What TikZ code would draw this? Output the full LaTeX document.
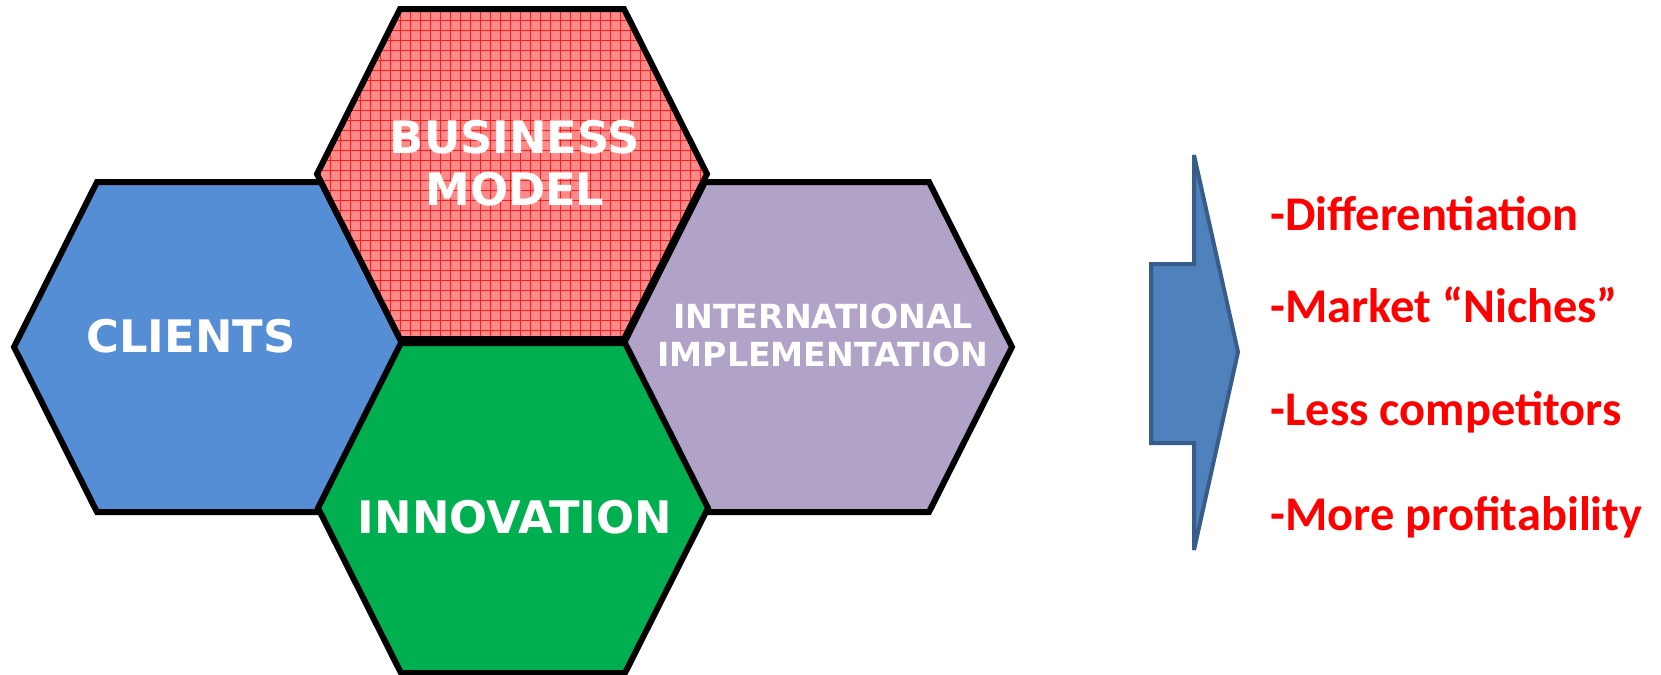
\documentclass[tikz,border=0pt]{standalone}
\usepackage{fontspec}
\newfontfamily\hexfont{DejaVu Sans}
\newfontfamily\calfont{Carlito}
\definecolor{clientsblue}{RGB}{85,142,213}
\definecolor{innovgreen}{RGB}{0,176,80}
\definecolor{intlpurple}{RGB}{177,162,199}
\definecolor{bmpink}{RGB}{255,138,138}
\definecolor{bmgrid}{RGB}{255,30,30}
\definecolor{arrowfill}{RGB}{79,129,189}
\definecolor{arrowline}{RGB}{56,93,138}
\definecolor{textred}{RGB}{255,0,0}
\newcommand\hexoutline{(-195,0) -- (-112,-165) -- (112,-165) -- (195,0) -- (112,165) -- (-112,165) -- cycle}
\begin{document}
\begin{tikzpicture}[x=0.5pt,y=-0.5pt,
  hexborder/.style={draw=black,line width=3pt,line join=miter},
  biglabel/.style={text=white,font=\hexfont\bfseries\fontsize{22.4}{26}\selectfont,inner sep=0pt,align=center,anchor=base},
  smalllabel/.style={text=white,font=\hexfont\bfseries\fontsize{16.6}{19}\selectfont,inner sep=0pt,align=center,anchor=base},
  benefit/.style={text=textred,font=\calfont\bfseries\fontsize{24.2}{28}\selectfont,inner sep=0pt,anchor=base west},
  gridline/.style={draw=bmgrid,line width=0.45pt}]
\useasboundingbox (0,0) rectangle (1661,675);

% Clients
\draw[hexborder,fill=clientsblue,shift={(209,347)}] \hexoutline;

% Business model (patterned)
\begin{scope}
  \clip[shift={(512,174)}] \hexoutline;
  \fill[bmpink] (300,0) rectangle (720,350);
  \foreach \gx in {300,310,...,720} \draw[gridline] (\gx,0) -- (\gx,350);
  \foreach \gy in {0,10,...,350} \draw[gridline] (300,\gy) -- (720,\gy);
\end{scope}
\draw[hexborder,shift={(512,174)}] \hexoutline;

% International implementation
\draw[hexborder,fill=intlpurple,shift={(817,347)}] \hexoutline;

% Innovation
\draw[hexborder,fill=innovgreen,shift={(513,508)}] \hexoutline;

% Labels (base anchor = baseline of the last line)
\node[biglabel] (clients) at (191,352) {CLIENTS};
\node[biglabel] (bm) at (515,205) {BUSINESS\\MODEL};
\node[smalllabel] (intl) at (823,366) {INTERNATIONAL\\IMPLEMENTATION};
\node[biglabel] (innov) at (515,533) {INNOVATION};

% Arrow
\draw[fill=arrowfill,draw=arrowline,line width=2pt,line join=miter,miter limit=2]
  (1194,155) -- (1238,352) -- (1194,550) -- (1194,443) -- (1151,443)
  -- (1151,264) -- (1194,264) -- cycle;

% Benefits
\node[benefit] (b1) at (1270,230) {-Differentiation};
\node[benefit] (b2) at (1270,322) {-Market “Niches”};
\node[benefit] (b3) at (1270,425) {-Less competitors};
\node[benefit] (b4) at (1270,530) {-More profitability};
\end{tikzpicture}
\end{document}
